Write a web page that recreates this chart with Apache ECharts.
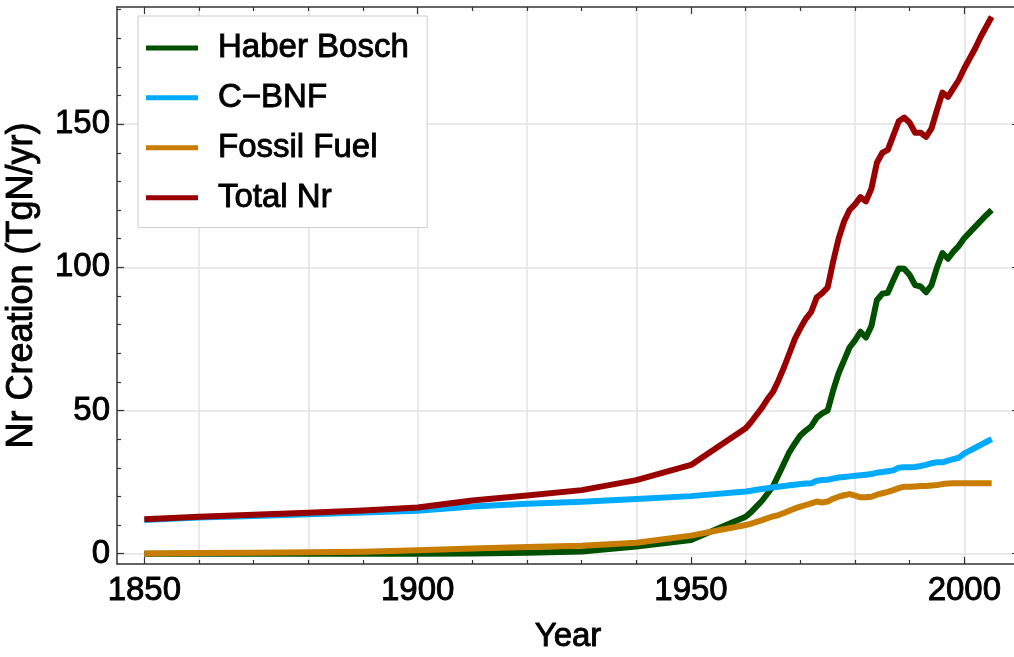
<!DOCTYPE html>
<html>
<head>
<meta charset="utf-8">
<script src="https://cdn.jsdelivr.net/npm/echarts@6/dist/echarts.min.js"></script>
<style>html,body{margin:0;padding:0;background:#fff}#c{width:1014px;height:657px}</style>
</head>
<body>
<div id="c"></div>
<script>
var years = [1850,1860,1870,1880,1890,1900,1910,1920,1930,1940,1950,
  1960,1961,1962,1963,1964,1965,1966,1967,1968,1969,
  1970,1971,1972,1973,1974,1975,1976,1977,1978,1979,
  1980,1981,1982,1983,1984,1985,1986,1987,1988,1989,
  1990,1991,1992,1993,1994,1995,1996,1997,1998,1999,
  2000,2001,2002,2003,2004,2005];
var haberBosch = [0,0,0,0,0,0,0.1,0.3,0.8,2.5,4.8,
  12.9,14.5,16.5,18.5,21,23.5,27.5,31.5,35.5,38.5,
  41.3,43,44.5,47.5,49,50,57,63,67.5,72,
  74.5,77.5,75.5,79.5,88.5,90.8,91.1,95.5,99.6,99.5,
  97.3,93.8,93.3,91.3,93.8,100,105,103,105.5,107.5,
  110.2,112.2,114.2,116.2,118.2,120];
var cBNF = [11.8,12.6,13.2,13.8,14.4,15.0,16.5,17.4,18.1,19.1,20.1,
  21.7,22,22.3,22.6,22.9,23.2,23.4,23.6,23.9,24.1,
  24.3,24.5,24.6,25.5,25.7,25.8,26.2,26.6,26.8,27,
  27.2,27.4,27.6,27.8,28.3,28.5,28.8,29.1,30,30.2,
  30.2,30.3,30.6,31,31.6,31.9,31.9,32.5,33,33.5,
  35,36,37,38,39,40];
var fossilFuel = [0.1,0.2,0.3,0.5,0.7,1.2,1.8,2.3,2.8,3.8,6.3,
  10,10.5,11.1,11.7,12.4,13.0,13.5,14.2,15.0,15.8,
  16.4,17.0,17.6,18.2,17.9,18.2,19.2,19.9,20.4,20.8,
  20.3,19.7,19.7,19.9,20.6,21.1,21.6,22.2,22.9,23.4,
  23.4,23.5,23.6,23.6,23.8,24.0,24.3,24.5,24.6,24.6,
  24.6,24.6,24.6,24.6,24.6,24.6];
var totalNr = [12.0,12.9,13.6,14.3,15.1,16.1,18.6,20.3,22.2,25.7,31.0,
  43.8,46,48.5,51,54,56.5,60.5,65,70,75,
  78.7,82,84.5,89.5,91,93,102,110,116,120,
  122,124.5,123,127.5,136.5,140,141,146,151,152.3,
  150.5,147,147,145.5,148.5,155,161,159.5,162.5,165.5,
  169.5,173,176.5,180.5,184,187.5];
var seriesNames = ['Haber Bosch','C\u2212BNF','Fossil Fuel','Total Nr'];
var xMajorTicks = [1850,1900,1950,2000];
var xMinorTicks = [1860,1870,1880,1890,1910,1920,1930,1940,1960,1970,1980,1990];
var xGridLines = [1860,1880,1900,1920,1940,1960,1980,2000];
var yMajorTicks = [0,50,100,150];
var yMinorTicks = [10,20,30,40,60,70,80,90,110,120,130,140,160,170,180,190];
var yGridLines = [0,50,100,150];
var xTitle = 'Year';
var yTitle = 'Nr Creation (TgN/yr)';

var XMIN = 1845, XMAX = 2010, YMIN = -3.6, YMAX = 190.9;
var FONT = 'Liberation Sans, Arial, Helvetica, sans-serif';
var FRAME = '#333333';
var colors = ['#005000','#00aaff','#c87d00','#990000'];
var allData = [haberBosch, cBNF, fossilFuel, totalNr];

function txt(size){
  return {fontSize:size, color:'#000', fontFamily:FONT, textBorderColor:'#000', textBorderWidth:0.9};
}
function pairs(vals){ return years.map(function(y,i){ return [y, vals[i]]; }); }

function tickAxis(type, pos, ticks, len, showLine, extra){
  var a = {
    type:'value', position:pos,
    min: type==='x'?XMIN:YMIN, max: type==='x'?XMAX:YMAX,
    axisLine:{show:showLine, onZero:false, lineStyle:{color:FRAME, width:1.5}},
    axisTick:{show:true, inside:true, length:len, customValues:ticks, lineStyle:{color:FRAME, width:1.2}},
    axisLabel:{show:false},
    splitLine:{show:false}
  };
  for (var k in extra) a[k] = extra[k];
  return a;
}
function gridAxis(type, pos, vals){
  return {
    type:'value', position:pos,
    min: type==='x'?XMIN:YMIN, max: type==='x'?XMAX:YMAX,
    axisLine:{show:false}, axisLabel:{show:false},
    axisTick:{show:false, customValues:vals},
    splitLine:{show:true, customValues:vals, lineStyle:{color:'#e2e2e2', width:1.5}}
  };
}
function fmt(v){ return String(Math.round(v)); }

var xLab = txt(33); xLab.show = true; xLab.customValues = xMajorTicks; xLab.margin = 10; xLab.formatter = fmt;
var yLab = txt(33); yLab.show = true; yLab.customValues = yMajorTicks; yLab.margin = 7; yLab.formatter = fmt;

var xAxes = [
  tickAxis('x','bottom',xMajorTicks,7,true,{
    axisLabel:xLab,
    name:xTitle, nameLocation:'middle', nameGap:56,
    nameTextStyle:txt(33)
  }),
  tickAxis('x','bottom',xMinorTicks,4,false,{}),
  gridAxis('x','bottom',xGridLines),
  tickAxis('x','top',xMajorTicks,7,true,{}),
  tickAxis('x','top',xMinorTicks,4,false,{})
];
var yAxes = [
  tickAxis('y','left',yMajorTicks,7,true,{
    axisLabel:yLab,
    name:yTitle, nameLocation:'middle', nameGap:77,
    nameTextStyle:txt(36)
  }),
  tickAxis('y','left',yMinorTicks,4,false,{}),
  gridAxis('y','left',yGridLines),
  tickAxis('y','right',yMajorTicks,7,true,{}),
  tickAxis('y','right',yMinorTicks,4,false,{})
];

var series = seriesNames.map(function(n,i){
  return {
    name:n, type:'line', xAxisIndex:0, yAxisIndex:0,
    data:pairs(allData[i]), showSymbol:false, symbol:'none',
    color:colors[i],
    lineStyle:{color:colors[i], width:6, join:'round'},
    emphasis:{disabled:true}, z:2+i
  };
});

var legText = txt(33); legText.padding = [0,0,0,15];

var chart = echarts.init(document.getElementById('c'), null, {renderer:'canvas'});
chart.setOption({
  animation:false,
  backgroundColor:'#ffffff',
  grid:{left:117, top:7, width:902, height:557, containLabel:false, outerBoundsMode:'none'},
  xAxis:xAxes,
  yAxis:yAxes,
  legend:{
    show:true, orient:'vertical', left:138, top:16,
    padding:[15,18,13,8], itemWidth:52, itemHeight:5, itemGap:16, icon:'rect',
    borderColor:'#cccccc', borderWidth:1, backgroundColor:'#ffffff',
    textStyle:legText,
    data:seriesNames, selectedMode:false
  },
  tooltip:{show:false},
  series:series
});
</script>
</body>
</html>
